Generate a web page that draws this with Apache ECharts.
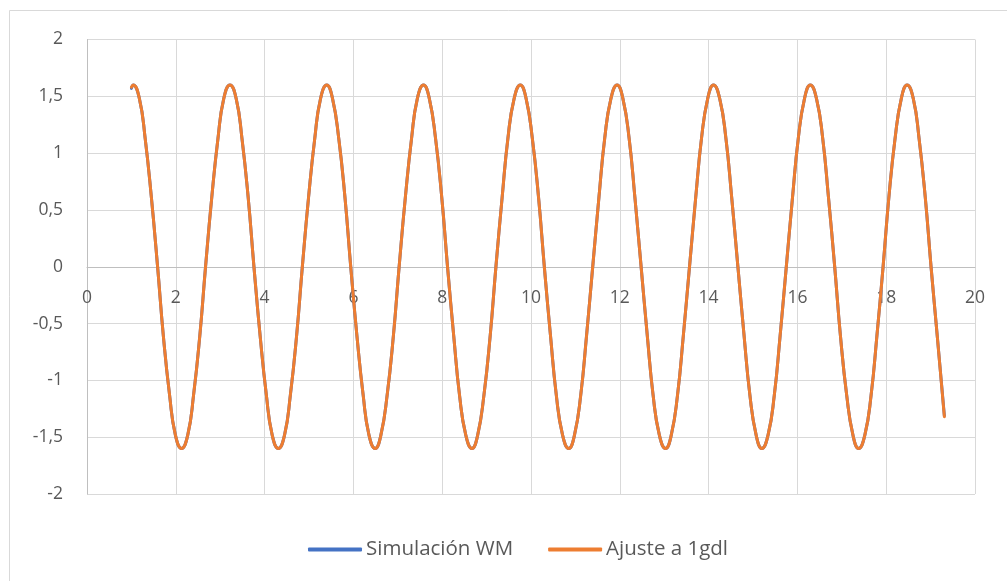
<!DOCTYPE html>
<html>
<head>
<meta charset="utf-8">
<script src="https://cdn.jsdelivr.net/npm/echarts@6/dist/echarts.min.js"></script>
<style>
  html, body { margin: 0; padding: 0; background: #fff; }
  #chart { width: 1007px; height: 581px; }
</style>
</head>
<body>
<div id="chart"></div>
<script>
// Time samples (s) along the oscillation
const tValues = [
  1.00,
  1.04, 1.18, 1.31, 1.45, 1.59, 1.72, 1.86, 1.99, 2.13, 2.27, 2.40, 2.54, 2.67, 2.81, 2.95, 3.08,
  3.22, 3.36, 3.49, 3.63, 3.76, 3.90, 4.04, 4.17, 4.31, 4.45, 4.58, 4.72, 4.85, 4.99, 5.13, 5.26,
  5.40, 5.53, 5.67, 5.81, 5.94, 6.08, 6.22, 6.35, 6.49, 6.62, 6.76, 6.90, 7.03, 7.17, 7.31, 7.44,
  7.58, 7.71, 7.85, 7.99, 8.12, 8.26, 8.39, 8.53, 8.67, 8.80, 8.94, 9.08, 9.21, 9.35, 9.48, 9.62,
  9.76, 9.89, 10.03, 10.17, 10.30, 10.44, 10.57, 10.71, 10.85, 10.98, 11.12, 11.25, 11.39, 11.53, 11.66, 11.80,
  11.94, 12.07, 12.21, 12.34, 12.48, 12.62, 12.75, 12.89, 13.03, 13.16, 13.30, 13.43, 13.57, 13.71, 13.84, 13.98,
  14.11, 14.25, 14.39, 14.52, 14.66, 14.80, 14.93, 15.07, 15.20, 15.34, 15.48, 15.61, 15.75, 15.89, 16.02, 16.16,
  16.29, 16.43, 16.57, 16.70, 16.84, 16.97, 17.11, 17.25, 17.38, 17.52, 17.66, 17.79, 17.93, 18.06, 18.20, 18.34,
  18.47, 18.61, 18.74, 18.88, 19.01, 19.15, 19.31
];

// Displacement from the WM simulation
const simulacionWM = [
  1.57,
  1.60, 1.48, 1.13, 0.61, 0.00, -0.61, -1.13, -1.48, -1.60, -1.48, -1.13, -0.61, 0.00, 0.61, 1.13, 1.48,
  1.60, 1.48, 1.13, 0.61, 0.00, -0.61, -1.13, -1.48, -1.60, -1.48, -1.13, -0.61, 0.00, 0.61, 1.13, 1.48,
  1.60, 1.48, 1.13, 0.61, 0.00, -0.61, -1.13, -1.48, -1.60, -1.48, -1.13, -0.61, 0.00, 0.61, 1.13, 1.48,
  1.60, 1.48, 1.13, 0.61, 0.00, -0.61, -1.13, -1.48, -1.60, -1.48, -1.13, -0.61, 0.00, 0.61, 1.13, 1.48,
  1.60, 1.48, 1.13, 0.61, 0.00, -0.61, -1.13, -1.48, -1.60, -1.48, -1.13, -0.61, 0.00, 0.61, 1.13, 1.48,
  1.60, 1.48, 1.13, 0.61, 0.00, -0.61, -1.13, -1.48, -1.60, -1.48, -1.13, -0.61, 0.00, 0.61, 1.13, 1.48,
  1.60, 1.48, 1.13, 0.61, 0.00, -0.61, -1.13, -1.48, -1.60, -1.48, -1.13, -0.61, 0.00, 0.61, 1.13, 1.48,
  1.60, 1.48, 1.13, 0.61, 0.00, -0.61, -1.13, -1.48, -1.60, -1.48, -1.13, -0.61, 0.00, 0.61, 1.13, 1.48,
  1.60, 1.48, 1.13, 0.61, 0.00, -0.61, -1.31
];

// Single-degree-of-freedom fit
const ajuste1gdl = [
  1.58,
  1.60, 1.48, 1.13, 0.61, 0.00, -0.61, -1.13, -1.48, -1.60, -1.48, -1.13, -0.61, 0.00, 0.61, 1.13, 1.48,
  1.60, 1.48, 1.13, 0.61, 0.00, -0.61, -1.13, -1.48, -1.60, -1.48, -1.13, -0.61, 0.00, 0.61, 1.13, 1.48,
  1.60, 1.48, 1.13, 0.61, 0.00, -0.61, -1.13, -1.48, -1.60, -1.48, -1.13, -0.61, 0.00, 0.61, 1.13, 1.48,
  1.60, 1.48, 1.13, 0.61, 0.00, -0.61, -1.13, -1.48, -1.60, -1.48, -1.13, -0.61, 0.00, 0.61, 1.13, 1.48,
  1.60, 1.48, 1.13, 0.61, 0.00, -0.61, -1.13, -1.48, -1.60, -1.48, -1.13, -0.61, 0.00, 0.61, 1.13, 1.48,
  1.60, 1.48, 1.13, 0.61, 0.00, -0.61, -1.13, -1.48, -1.60, -1.48, -1.13, -0.61, 0.00, 0.61, 1.13, 1.48,
  1.60, 1.48, 1.13, 0.61, 0.00, -0.61, -1.13, -1.48, -1.60, -1.48, -1.13, -0.61, 0.00, 0.61, 1.13, 1.48,
  1.60, 1.48, 1.13, 0.61, 0.00, -0.61, -1.13, -1.48, -1.60, -1.48, -1.13, -0.61, 0.00, 0.61, 1.13, 1.48,
  1.60, 1.48, 1.13, 0.61, 0.00, -0.61, -1.32
];

const seriesNames = ['Simulación WM', 'Ajuste a 1gdl'];

const pairs = (ys) => tValues.map((t, i) => [t, ys[i]]);
const fmt = (v) => String(v).replace('.', ',');

const FONT = 'Open Sans';
const TEXT = '#595959';
const GRID = '#D9D9D9';

// Plot box and the pixel offset of the y = 0 line from its bottom edge
const TOP = 39.5, BOTTOM = 87, HEIGHT = 581;
const plotH = HEIGHT - TOP - BOTTOM;
const zeroOffset = -plotH / 2;

const chart = echarts.init(document.getElementById('chart'), null, { renderer: 'canvas' });
chart.setOption({
  animation: false,
  backgroundColor: '#fff',
  graphic: [{
    type: 'rect',
    shape: { x: 9.5, y: 10.5, width: 1010, height: 600 },
    style: { fill: 'none', stroke: GRID, lineWidth: 1 },
    silent: true
  }],
  grid: { left: 87, right: 32, top: TOP, bottom: BOTTOM },
  xAxis: {
    type: 'value', min: 0, max: 20, interval: 2,
    position: 'bottom',
    offset: zeroOffset,
    axisLine: { onZero: false, lineStyle: { color: '#BFBFBF', width: 1 } },
    axisTick: { show: false },
    splitLine: { show: true, lineStyle: { color: GRID, width: 1 } },
    axisLabel: { color: TEXT, fontFamily: FONT, fontSize: 17.5, margin: 22, formatter: fmt }
  },
  yAxis: {
    type: 'value', min: -2, max: 2, interval: 0.5,
    axisLine: { show: true, lineStyle: { color: '#BFBFBF', width: 1 } },
    axisTick: { show: false },
    splitLine: { show: true, lineStyle: { color: GRID, width: 1 } },
    axisLabel: { color: TEXT, fontFamily: FONT, fontSize: 17.5, margin: 24, formatter: fmt }
  },
  legend: {
    bottom: 16,
    left: 303,
    itemWidth: 54,
    itemHeight: 4,
    itemGap: 35,
    icon: 'roundRect',
    textStyle: { color: TEXT, fontFamily: FONT, fontSize: 20.5, padding: [0, 0, 0, -1] },
    data: seriesNames
  },
  series: [
    {
      name: seriesNames[0], type: 'line', data: pairs(simulacionWM),
      smooth: 0.5, showSymbol: false, symbol: 'none',
      itemStyle: { color: '#4472C4' },
      lineStyle: { color: '#4472C4', width: 3, cap: 'round', join: 'round' }
    },
    {
      name: seriesNames[1], type: 'line', data: pairs(ajuste1gdl),
      smooth: 0.5, showSymbol: false, symbol: 'none',
      itemStyle: { color: '#ED7D31' },
      lineStyle: { color: '#ED7D31', width: 3, cap: 'round', join: 'round' }
    }
  ]
});
</script>
</body>
</html>
